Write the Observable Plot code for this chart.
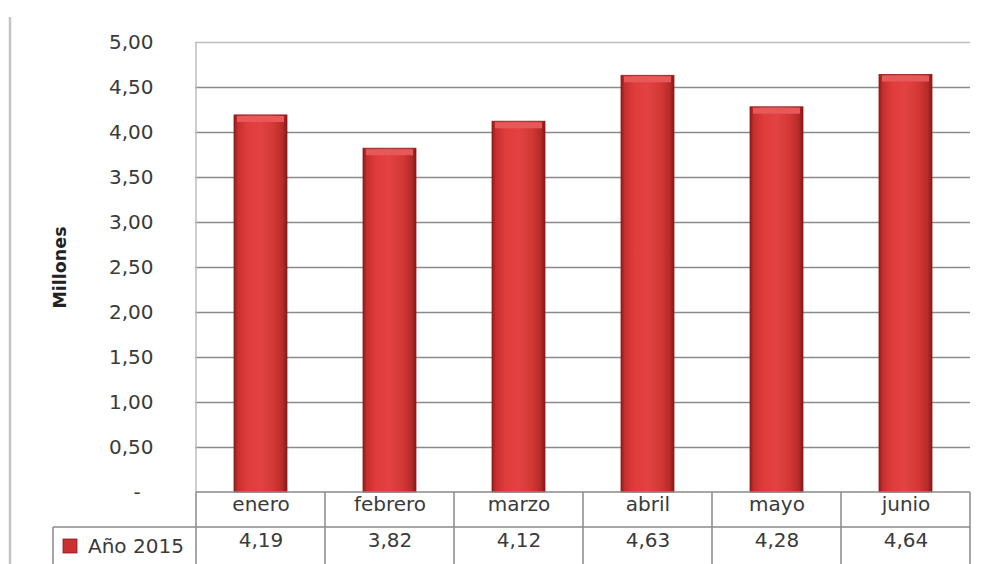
<!DOCTYPE html>
<html>
<head>
<meta charset="utf-8">
<script src="https://cdn.jsdelivr.net/npm/d3@7"></script>
<script src="https://cdn.jsdelivr.net/npm/@observablehq/plot@0.6"></script>
<style>
  html, body { margin: 0; padding: 0; background: #fff; }
  #chart svg { display: block; overflow: visible; }
  g[aria-label="y-axis label"] text { font-weight: bold; font-size: 17.5px; fill: #222; }
</style>
</head>
<body>
<div id="chart"></div>
<script>
const months = ["enero", "febrero", "marzo", "abril", "mayo", "junio"];
const values2015 = [4.19, 3.82, 4.12, 4.63, 4.28, 4.64];
const seriesName = "Año 2015";
const yTicks = [0, 0.5, 1, 1.5, 2, 2.5, 3, 3.5, 4, 4.5, 5];
const yLabel = "Millones";

const data = months.map((m, i) => ({month: m, value: values2015[i]}));
const fmt = v => v.toFixed(2).replace(".", ",");
const tickFmt = v => v === 0 ? "-\u2007" : fmt(v);

const textColor = "#3a3a3a";
const lineColor = "#8a8a8a";

const defs = () => {
  const d = d3.create("svg:defs");
  const g = d.append("linearGradient").attr("id", "barGrad")
    .attr("x1", "0").attr("x2", "1").attr("y1", "0").attr("y2", "0");
  [["0%", "#8e1a1a"], ["7%", "#c72e2e"], ["25%", "#e03c3c"], ["50%", "#e24242"],
   ["75%", "#d33835"], ["92%", "#b42b29"], ["100%", "#861717"]]
    .forEach(([o, c]) => g.append("stop").attr("offset", o).attr("stop-color", c));
  return d.node();
};

// table borders, legend cell and side rule (decoration drawn from the x scale)
const tableMark = (index, scales, values, dims) => {
  const x = scales.x;
  const step = x(months[1]) - x(months[0]);
  const bw = x.bandwidth ? x.bandwidth() : step * 0.41;
  const left = x(months[0]) - (step - bw) / 2;
  const right = left + step * months.length;
  const top = dims.height - dims.marginBottom;
  const row = 35;
  const bottom = dims.height + 4;
  const legendLeft = 53;
  const g = d3.create("svg:g").attr("fill", "none");
  const line = (x1, y1, x2, y2, c, w) => g.append("line")
    .attr("x1", x1).attr("y1", y1).attr("x2", x2).attr("y2", y2)
    .attr("stroke", c).attr("stroke-width", w);
  line(10, 17, 10, bottom, "#c4c4c4", 2.5);
  line(left, dims.marginTop, left, top, "#bdbdbd", 1.5);
  line(left, top, left, bottom, lineColor, 1.5);
  line(left, top, right, top, lineColor, 1.5);
  line(legendLeft, top + row, right, top + row, lineColor, 1.5);
  line(legendLeft, top + row, legendLeft, bottom, lineColor, 1.5);
  for (let k = 1; k <= months.length; k++) {
    const xx = left + k * step;
    line(xx, top, xx, bottom, lineColor, 1.5);
  }
  g.append("rect").attr("x", 63).attr("y", top + row + 12).attr("width", 14).attr("height", 14)
    .attr("fill", "#c93030").attr("stroke", "#8e1a1a").attr("stroke-width", 0.8);
  g.append("text").attr("x", 88).attr("y", top + row + 19)
    .attr("dy", "0.35em").attr("fill", textColor).attr("text-anchor", "start")
    .attr("font-size", 20).text(seriesName);
  return g.node();
};

const chart = Plot.plot({
  width: 982,
  height: 564,
  marginTop: 42,
  marginBottom: 72,
  marginLeft: 195,
  marginRight: 12,
  style: {fontFamily: "'DejaVu Sans', sans-serif", fontSize: "20px", color: textColor, background: "#fff"},
  x: {domain: months, paddingInner: 0.59, paddingOuter: 0.295, axis: null},
  y: {domain: [0, 5], axis: null},
  marks: [
    defs,
    Plot.ruleY(yTicks.filter(t => t > 0 && t < 5), {stroke: lineColor, strokeWidth: 1.5}),
    Plot.ruleY([5], {stroke: "#bdbdbd", strokeWidth: 1.5}),
    Plot.axisY({
      ticks: yTicks, tickFormat: tickFmt, tickSize: 0, tickPadding: 42,
      label: yLabel, labelAnchor: "center", labelArrow: "none", labelOffset: 142,
      fontSize: 20
    }),
    Plot.barY(data, {x: "month", y: "value", fill: "url(#barGrad)", stroke: "#8e1c1c", strokeWidth: 0.8}),
    Plot.tickY(data, {x: "month", y: "value", stroke: "#e85858", strokeWidth: 6, dy: 3.5, insetLeft: 3, insetRight: 3}),
    tableMark,
    Plot.text(months, {x: d => d, frameAnchor: "bottom", dy: 18, fill: textColor, fontSize: 20}),
    Plot.text(data, {x: "month", text: d => fmt(d.value), frameAnchor: "bottom", dy: 54, fill: textColor, fontSize: 20})
  ]
});
document.getElementById("chart").appendChild(chart);
</script>
</body>
</html>
